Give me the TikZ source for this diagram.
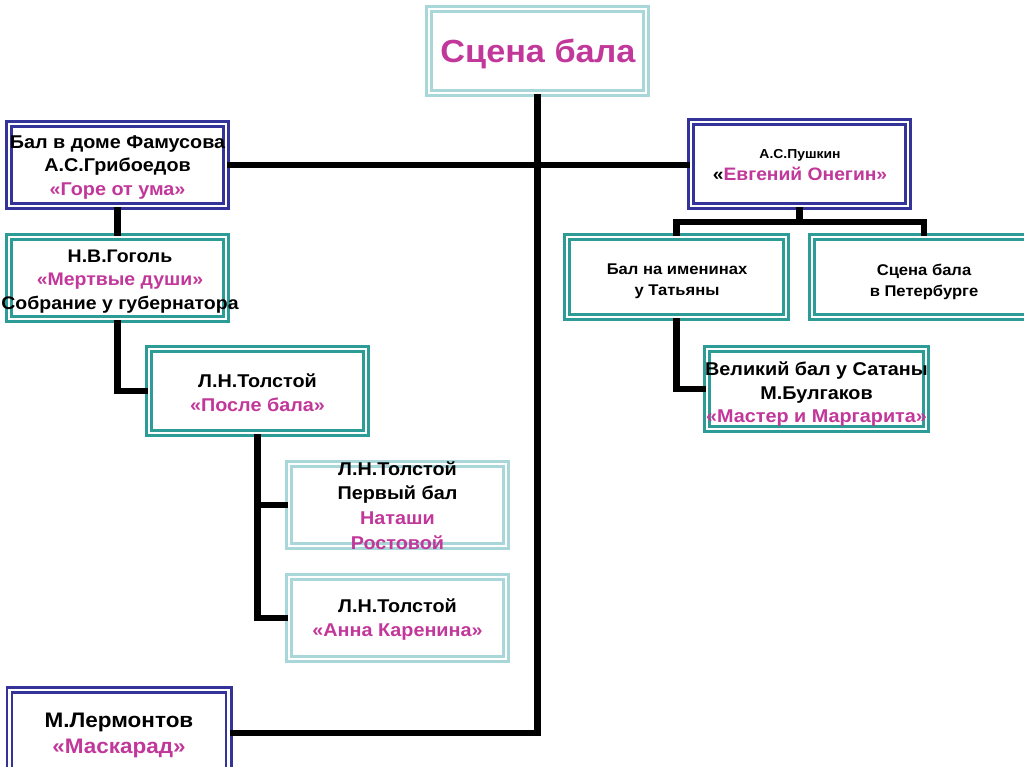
\documentclass[tikz,border=0pt]{standalone}
\usepackage{fontspec}
\setmainfont[FakeStretch=1.07]{Liberation Sans}
\definecolor{ltteal}{HTML}{A9D6D8}
\definecolor{mdteal}{HTML}{2E9C96}
\definecolor{dkblue}{HTML}{343399}
\definecolor{magt}{HTML}{C2379A}
\tikzset{
  boxbase/.style={rectangle, fill=white, double=white, line width=2.6pt, double distance=2.6pt, inner sep=0pt},
  lightbox/.style={boxbase, draw=ltteal},
  tealbox/.style={boxbase, draw=mdteal},
  bluebox/.style={boxbase, draw=dkblue},
  txt/.style={align=center, inner sep=0pt, font=\bfseries\fontsize{18.5}{23.5}\selectfont},
  smalltxt/.style={align=center, inner sep=0pt, font=\bfseries\fontsize{15.5}{21}\selectfont},
  conn/.style={draw=black, line width=6.5pt}
}
\begin{document}
\begin{tikzpicture}[x=1pt,y=-1pt]
\clip (0,0) rectangle (1024,767);
\fill[white] (0,0) rectangle (1024,767);
% boxes
\node[lightbox, minimum width=217.2pt, minimum height=84.2pt] (scena) at (537.5,51) {};
\node[bluebox, minimum width=217.2pt, minimum height=82.2pt] (fam) at (117.5,165) {};
\node[tealbox, minimum width=217.2pt, minimum height=82.2pt] (gog) at (117.5,278) {};
\node[tealbox, minimum width=217.2pt, minimum height=84.2pt] (posle) at (257.5,391) {};
\node[lightbox, minimum width=217.2pt, minimum height=82.2pt] (nat) at (397.5,505) {};
\node[lightbox, minimum width=217.2pt, minimum height=82.2pt] (anna) at (397.5,618) {};
\node[bluebox, minimum width=219.2pt, minimum height=86.2pt] (lerm) at (119,733) {};
\node[bluebox, minimum width=217.2pt, minimum height=84.2pt] (push) at (799.5,164) {};
\node[tealbox, minimum width=219.2pt, minimum height=80.2pt] (tat) at (676.5,277) {};
\node[tealbox, minimum width=224pt, minimum height=80.2pt] (pet) at (924,277) {};
\node[tealbox, minimum width=219pt, minimum height=80pt] (bulg) at (816.5,389) {};
% connectors
\coordinate (pj) at (799.5,222);
\draw[conn] (scena.south) -- (scena.south |- lerm.east) -- (lerm.east);
\draw[conn] (fam.east) -- (fam.east -| push.west);
\draw[conn] (fam.south) -- (gog.north);
\draw[conn] (gog.south) |- (posle.west);
\draw[conn] (posle.south) |- (nat.west);
\draw[conn] (posle.south) |- (anna.west);
\draw[conn] (push.south) -- (pj);
\draw[conn] (tat.north) -- (tat.north |- pj) -- (pet.north |- pj) -- (pet.north);
\draw[conn] (tat.south) |- (bulg.west);
% texts
\node[inner sep=0pt, font=\bfseries\fontsize{32}{40}\selectfont, text=magt] (scenat) at (538,54) {Сцена бала};
\node[txt] (famt) at (117.5,167.5) {Бал в доме Фамусова\\А.С.Грибоедов\\\textcolor{magt}{«Горе от ума»}};
\node[txt, font=\bfseries\fontsize{18.2}{23.5}\selectfont] (gogt) at (120,281.5) {Н.В.Гоголь\\\textcolor{magt}{«Мертвые души»}\\Собрание у губернатора};
\node[txt] (poslet) at (257.5,392.5) {Л.Н.Толстой\\\textcolor{magt}{«После бала»}};
\node[txt, font=\bfseries\fontsize{18.5}{24.7}\selectfont] (natt) at (397.5,505.5) {Л.Н.Толстой\\Первый бал\\\textcolor{magt}{Наташи}\\\textcolor{magt}{Ростовой}};
\node[txt] (annat) at (397.5,619.5) {Л.Н.Толстой\\\textcolor{magt}{«Анна Каренина»}};
\node[txt, font=\bfseries\fontsize{21}{26}\selectfont] (lermt) at (119,735.5) {М.Лермонтов\\\textcolor{magt}{«Маскарад»}};
\node[align=center, inner sep=0pt, font=\bfseries\fontsize{18}{22}\selectfont] (pusht) at (800,165) {{\fontsize{13}{22}\selectfont А.С.Пушкин}\\«\textcolor{magt}{Евгений Онегин»}};
\node[smalltxt] (tatt) at (677,281.5) {Бал на именинах\\у Татьяны};
\node[smalltxt] (pett) at (924,281.5) {Сцена бала\\в Петербурге};
\node[txt] (bulgt) at (816.5,394.5) {Великий бал у Сатаны\\М.Булгаков\\\textcolor{magt}{«Мастер и Маргарита»}};
\end{tikzpicture}
\end{document}
